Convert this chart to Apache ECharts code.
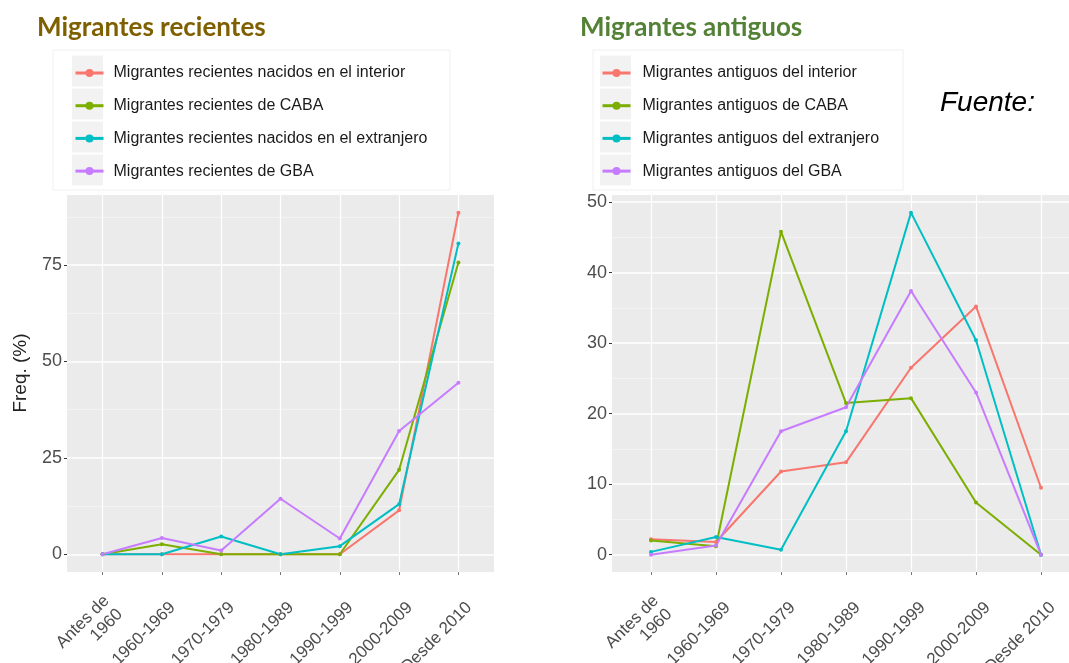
<!DOCTYPE html>
<html>
<head>
<meta charset="utf-8">
<script src="https://cdn.jsdelivr.net/npm/echarts@6/dist/echarts.min.js"></script>
<style>
html, body {margin: 0; padding: 0; background: #fff;}
#chart {width: 1069px; height: 663px;}
</style>
</head>
<body>
<div id="chart"></div>
<script>
// periodos de llegada (eje x de ambos paneles)
var periodos = ['Antes de\n1960', '1960-1969', '1970-1979', '1980-1989', '1990-1999', '2000-2009', 'Desde 2010'];

// Migrantes recientes, Freq. (%)
var recInterior   = [0, 0, 0, 0, 0, 11.4, 88.6];
var recCaba       = [0, 2.6, 0, 0, 0, 21.9, 75.7];
var recExtranjero = [0, 0, 4.6, 0, 2.1, 13.0, 80.6];
var recGba        = [0, 4.2, 1.0, 14.4, 4.1, 32.0, 44.5];

// Migrantes antiguos, Freq. (%)
var antInterior   = [2.2, 1.8, 11.8, 13.1, 26.5, 35.2, 9.5];
var antCaba       = [2.0, 1.2, 45.8, 21.5, 22.2, 7.4, 0];
var antExtranjero = [0.4, 2.5, 0.7, 17.5, 48.5, 30.4, 0];
var antGba        = [0, 1.3, 17.5, 20.9, 37.4, 23.0, 0];

// marcas del eje y
var ticksRec = [0, 25, 50, 75];
var menoresRec = [12.5, 37.5, 62.5, 87.5];
var ticksAnt = [0, 10, 20, 30, 40, 50];
var menoresAnt = [5, 15, 25, 35, 45];

var nombresRec = ['Migrantes recientes nacidos en el interior', 'Migrantes recientes de CABA',
                  'Migrantes recientes nacidos en el extranjero', 'Migrantes recientes de GBA'];
var nombresAnt = ['Migrantes antiguos del interior', 'Migrantes antiguos de CABA',
                  'Migrantes antiguos del extranjero', 'Migrantes antiguos del GBA'];
var colores = ['#F8766D', '#7CAE00', '#00BFC4', '#C77CFF'];

var FUENTE = "'Liberation Sans', Arial, sans-serif";
var DESPLAZ = 0.18; // corrimiento de las etiquetas rotadas

function pares(valores){
    return valores.map(function(v, i){ return [i, v]; });
}

function eje_x(grid){
    var pos = periodos.map(function(p, i){ return i; });
    return {
        type: 'value', gridIndex: grid, min: -0.6, max: 6.6,
        axisLine: {show: false, onZero: false},
        axisTick: {show: true, length: 3, lineStyle: {color: '#777'}, customValues: pos},
        axisLabel: {
            customValues: pos.map(function(i){ return i + DESPLAZ; }),
            rotate: 45, margin: 33, fontSize: 17, color: '#4d4d4d', fontFamily: FUENTE, lineHeight: 19,
            formatter: function(v){ return periodos[Math.round(v - DESPLAZ)]; }
        },
        splitLine: {show: true, lineStyle: {color: '#fff', width: 1.2}}
    };
}

function eje_y(grid, min, max, ticks, nombre){
    return {
        type: 'value', gridIndex: grid, min: min, max: max, position: 'left',
        name: nombre, nameLocation: 'middle', nameGap: 37,
        nameTextStyle: {fontSize: 19, color: '#222', fontFamily: FUENTE, padding: [0, 0, 0, 21]},
        axisLine: {show: false, onZero: false},
        axisTick: {show: true, length: 3, lineStyle: {color: '#333'}, customValues: ticks},
        axisLabel: {customValues: ticks, fontSize: 18, color: '#4d4d4d', margin: 5, fontFamily: FUENTE},
        splitLine: {show: true, lineStyle: {color: '#fff', width: 1.6}}
    };
}

function eje_menor(grid, min, max, ticks){
    return {
        type: 'value', gridIndex: grid, min: min, max: max, position: 'left',
        axisLine: {show: false, onZero: false},
        axisTick: {show: false, customValues: ticks},
        axisLabel: {show: false},
        splitLine: {show: true, lineStyle: {color: '#F5F5F5', width: 0.8}}
    };
}

function serie(nombre, valores, color, xi, yi){
    return {
        name: nombre, type: 'line', xAxisIndex: xi, yAxisIndex: yi,
        data: pares(valores),
        symbol: 'circle', symbolSize: 4,
        lineStyle: {color: color, width: 2},
        itemStyle: {color: color},
        emphasis: {disabled: true}
    };
}

function leyenda(nombres, left, sep){
    return {
        orient: 'vertical', left: left, top: 65, padding: 0,
        data: nombres, itemWidth: 28, itemHeight: 10, itemGap: 16.7,
        selectedMode: false,
        lineStyle: {width: 3},
        textStyle: {fontSize: 16, color: '#1a1a1a', fontFamily: FUENTE, lineHeight: 14, padding: [0, 0, 0, sep]}
    };
}

// marco de leyenda y fondos grises de las claves
function fondo_leyenda(x0, x1, xClave){
    var els = [{
        type: 'rect', shape: {x: x0, y: 50, width: x1 - x0, height: 140},
        style: {fill: '#fff', stroke: '#F0F0F0', lineWidth: 1}, z: -1
    }];
    for (var i = 0; i < 4; i++){
        els.push({
            type: 'rect', shape: {x: xClave, y: 55.5 + i * 33, width: 31, height: 31},
            style: {fill: '#F2F2F2'}, z: 0
        });
    }
    return els;
}

var myChart = echarts.init(document.getElementById('chart'), null, {renderer: 'canvas'});

var series = [];
var recientes = [recInterior, recCaba, recExtranjero, recGba];
var antiguos = [antInterior, antCaba, antExtranjero, antGba];
for (var i = 0; i < 4; i++){
    series.push(serie(nombresRec[i], recientes[i], colores[i], 0, 0));
}
for (var j = 0; j < 4; j++){
    series.push(serie(nombresAnt[j], antiguos[j], colores[j], 1, 2));
}

var option = {
    animation: false,
    backgroundColor: '#fff',
    title: [{
        text: 'Migrantes recientes', left: 37, top: 15, padding: 0,
        textStyle: {fontFamily: 'Lato', fontWeight: 'bold', fontSize: 26, color: '#7F6000'}
    }, {
        text: 'Migrantes antiguos', left: 580, top: 15, padding: 0,
        textStyle: {fontFamily: 'Lato', fontWeight: 'bold', fontSize: 26, color: '#538135'}
    }, {
        text: 'Fuente:', left: 940, top: 89, padding: 0,
        textStyle: {fontFamily: FUENTE, fontStyle: 'italic', fontWeight: 'normal', fontSize: 28, color: '#000'}
    }],
    legend: [leyenda(nombresRec, 74, 5), leyenda(nombresAnt, 601, 7)],
    grid: [
        {left: 67, top: 195, width: 427, height: 377, show: true, backgroundColor: '#EBEBEB',
         borderWidth: 0, outerBoundsMode: 'none', containLabel: false},
        {left: 612, top: 195, width: 468, height: 377, show: true, backgroundColor: '#EBEBEB',
         borderWidth: 0, outerBoundsMode: 'none', containLabel: false}
    ],
    xAxis: [eje_x(0), eje_x(1)],
    yAxis: [
        eje_y(0, -4.6, 93.2, ticksRec, 'Freq. (%)'),
        eje_menor(0, -4.6, 93.2, menoresRec),
        eje_y(1, -2.45, 51.0, ticksAnt, ''),
        eje_menor(1, -2.45, 51.0, menoresAnt)
    ],
    graphic: fondo_leyenda(53, 450, 72).concat(fondo_leyenda(593, 903, 600)),
    series: series
};

myChart.setOption(option);
</script>
</body>
</html>
